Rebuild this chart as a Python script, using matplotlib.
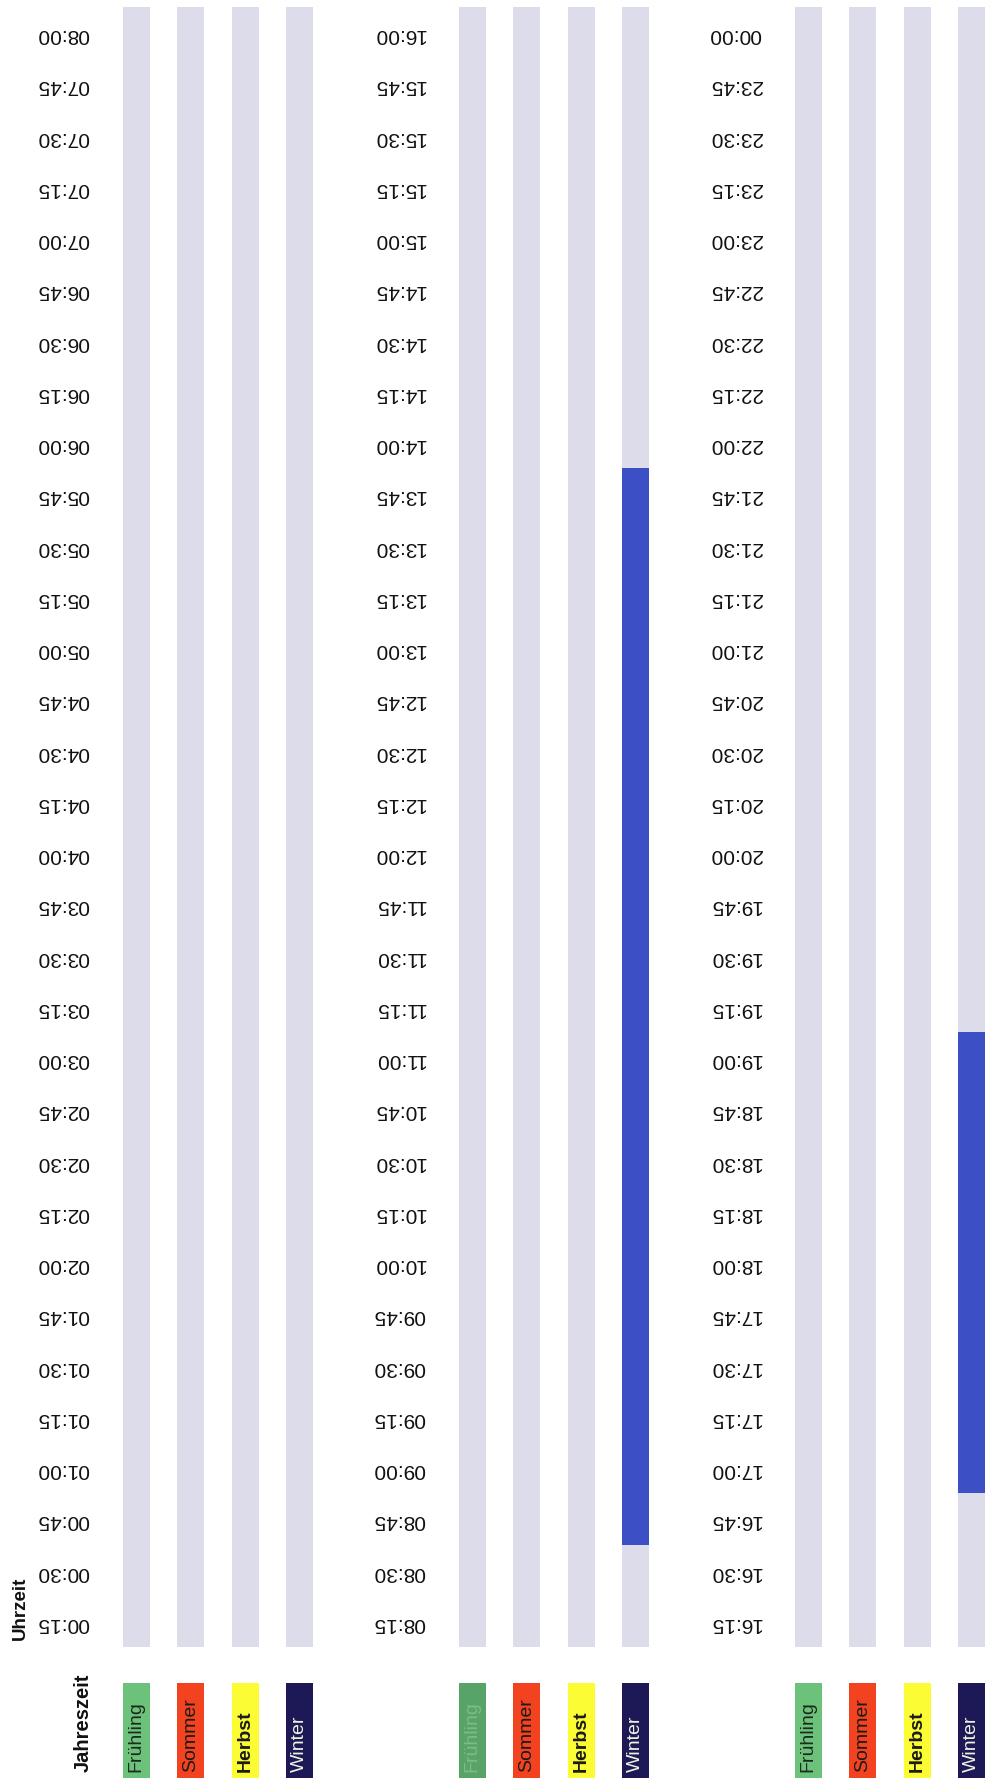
import pandas as pd
import matplotlib.pyplot as plt

# Daten
jahreszeiten = ['Frühling', 'Sommer', 'Herbst', 'Winter']
panel_start = ['00:15', '08:15', '16:15']
winter_an = [('08:45', '13:45'), ('17:00', '19:00')]

# Uhrzeiten im Viertelstundentakt (00:15 ... 00:00)
uhrzeiten = list(pd.date_range('2000-01-01 00:15', periods=96, freq='15min').strftime('%H:%M'))

farben_box = {'Frühling': '#6cc27a', 'Sommer': '#f2421f', 'Herbst': '#fcfc34', 'Winter': '#1d1856'}
farben_text = {'Frühling': '#1c2a1c', 'Sommer': '#1a1a1a', 'Herbst': '#1a1a1a', 'Winter': '#f2f2e0'}
grau = '#dcdcea'
blau = '#3d4fc4'

plt.rcParams['font.family'] = ['Liberation Sans', 'DejaVu Sans']

W, H = 995, 1778
fig = plt.figure(figsize=(W / 100, H / 100), dpi=100)
fig.patch.set_facecolor('white')


def px_axes(left, top, width, height):
    return fig.add_axes([left / W, 1 - (top + height) / H, width / W, height / H])


for p in range(3):
    i0 = uhrzeiten.index(panel_start[p])
    labels = uhrzeiten[i0:i0 + 32]
    left = 109 + 336 * p

    ax = px_axes(left, 7, 218, 1640)
    for j in range(4):
        ax.bar(j, len(labels), bottom=-0.5, width=0.5, color=grau)
    # Winter-Zeiten
    for von, bis in winter_an:
        if von in labels:
            a = labels.index(von)
            b = labels.index(bis)
            ax.bar(3, b - a + 1, bottom=a - 0.5, width=0.5, color=blau)
    ax.set_xlim(-0.5, 3.5)
    ax.set_ylim(-0.5, 31.5)
    ax.set_yticks(range(32))
    ax.set_yticklabels(labels, rotation=180, fontsize=15, color='#111111')
    ax.tick_params(length=0, pad=14)
    ax.set_xticks([])
    for s in ax.spines.values():
        s.set_visible(False)
    ax.patch.set_alpha(0)

    # Jahreszeit-Kästchen
    lx = px_axes(left, 1683, 218, 95)
    for j, name in enumerate(jahreszeiten):
        c = farben_box[name]
        tc = farben_text[name]
        if p == 1 and name == 'Frühling':
            c = '#58a468'
            tc = '#7cbc88'
        lx.bar(j, 1, bottom=0, width=0.5, color=c)
        lx.text(j, 0.06, name, rotation=90, ha='center', va='bottom', fontsize=14,
                color=tc, fontweight='bold' if name in ('Herbst',) else 'normal')
    lx.set_xlim(-0.5, 3.5)
    lx.set_ylim(0, 1)
    lx.axis('off')

fig.text(83 / W, 6 / H, 'Jahreszeit', rotation=90, ha='center', va='bottom',
         fontsize=14.5, fontweight='bold', color='#111111')
fig.text(20 / W, (H - 1640) / H, 'Uhrzeit', rotation=90, ha='center', va='bottom',
         fontsize=13.5, fontweight='bold', color='#111111')

fig.savefig('out.png', dpi=100, facecolor='white')
